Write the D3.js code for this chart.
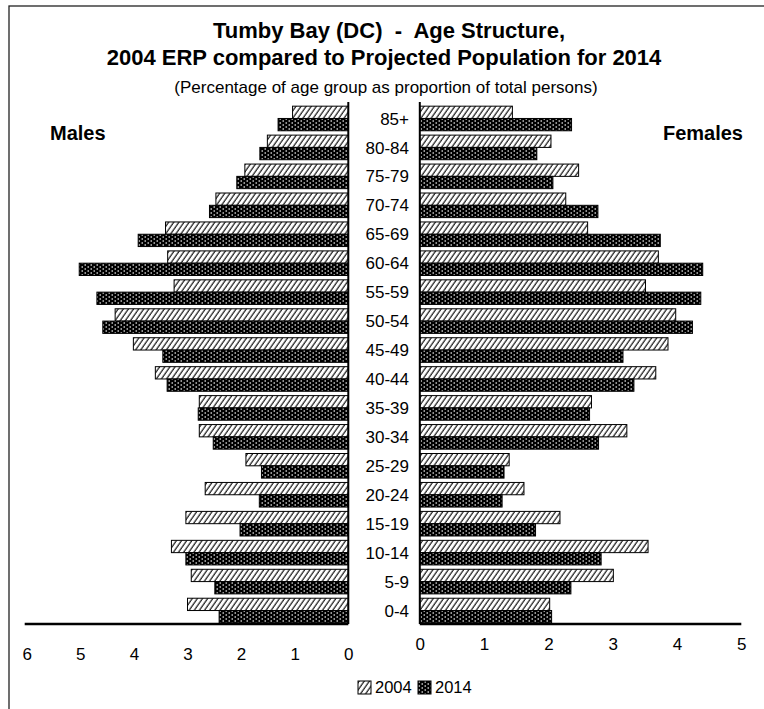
<!DOCTYPE html>
<html>
<head>
<meta charset="utf-8">
<script src="https://cdn.jsdelivr.net/npm/d3@7"></script>
<style>
  html, body { margin: 0; padding: 0; background: #fff; }
  svg { display: block; font-family: "Liberation Sans", Arial, sans-serif; }
  .title { font-weight: bold; font-size: 22px; white-space: pre; }
  .subtitle { font-size: 17px; }
  .side { font-weight: bold; font-size: 20px; }
  .age { font-size: 17px; }
  .legend { font-size: 16.5px; }
</style>
</head>
<body>
<svg id="chart" width="764" height="709"></svg>
<script>
const AGE_GROUPS = ["85+", "80-84", "75-79", "70-74", "65-69", "60-64", "55-59", "50-54", "45-49",
  "40-44", "35-39", "30-34", "25-29", "20-24", "15-19", "10-14", "5-9", "0-4"];
const YEARS = ["2004", "2014"];

// percent of total persons
const MALES_2004 = [1.04, 1.51, 1.93, 2.47, 3.41, 3.37, 3.25, 4.35, 4.01, 3.60, 2.78, 2.78, 1.91, 2.67, 3.03, 3.30, 2.93, 3.00];
const MALES_2014 = [1.31, 1.65, 2.08, 2.59, 3.92, 5.02, 4.69, 4.58, 3.46, 3.38, 2.80, 2.52, 1.62, 1.66, 2.02, 3.03, 2.49, 2.41];
const FEMALES_2004 = [1.44, 2.04, 2.47, 2.27, 2.61, 3.71, 3.51, 3.98, 3.86, 3.67, 2.67, 3.22, 1.39, 1.62, 2.18, 3.55, 3.01, 2.02];
const FEMALES_2014 = [2.36, 1.82, 2.07, 2.77, 3.74, 4.40, 4.37, 4.24, 3.16, 3.33, 2.64, 2.78, 1.31, 1.28, 1.80, 2.82, 2.35, 2.05];

const LEFT_TICKS = [6, 5, 4, 3, 2, 1, 0];
const RIGHT_TICKS = [0, 1, 2, 3, 4, 5];

const svg = d3.select("#chart");
const defs = svg.append("defs");

const hatch = defs.append("pattern")
  .attr("id", "hatch")
  .attr("patternUnits", "userSpaceOnUse")
  .attr("width", 4.2)
  .attr("height", 4.2)
  .attr("patternTransform", "rotate(35)");
hatch.append("rect").attr("width", 4.2).attr("height", 4.2).attr("fill", "#fff");
hatch.append("line").attr("x1", 1).attr("y1", 0).attr("x2", 1).attr("y2", 4.2)
  .attr("stroke", "#000").attr("stroke-width", 1.1);

const dots = defs.append("pattern")
  .attr("id", "dots")
  .attr("patternUnits", "userSpaceOnUse")
  .attr("width", 6)
  .attr("height", 4);
dots.append("rect").attr("width", 6).attr("height", 4).attr("fill", "#000");
dots.append("circle").attr("cx", 1.2).attr("cy", 1).attr("r", 0.8).attr("fill", "#fff");
dots.append("circle").attr("cx", 4.2).attr("cy", 3).attr("r", 0.8).attr("fill", "#fff");

const fills = { "2004": "url(#hatch)", "2014": "url(#dots)" };

// frame (right and bottom edges fall off the page)
svg.append("rect")
  .attr("x", 9).attr("y", 6).attr("width", 770).attr("height", 720)
  .attr("fill", "none").attr("stroke", "#222").attr("stroke-width", 1.3);

// titles
svg.append("text").attr("class", "title").attr("x", 389).attr("y", 38)
  .attr("text-anchor", "middle").text("Tumby Bay (DC)  -  Age Structure,");
svg.append("text").attr("class", "title").attr("x", 384).attr("y", 65)
  .attr("text-anchor", "middle").text("2004 ERP compared to Projected Population for 2014");
svg.append("text").attr("class", "subtitle").attr("x", 386).attr("y", 93)
  .attr("text-anchor", "middle").text("(Percentage of age group as proportion of total persons)");

svg.append("text").attr("class", "side").attr("x", 50).attr("y", 140).text("Males");
svg.append("text").attr("class", "side").attr("x", 743).attr("y", 140)
  .attr("text-anchor", "end").text("Females");

// scales
const y = d3.scaleBand()
  .domain(AGE_GROUPS)
  .range([104, 625])
  .paddingInner(0.15)
  .paddingOuter(0.075);
const yYear = d3.scaleBand().domain(YEARS).range([0, y.bandwidth()]);

const xLeft = d3.scaleLinear().domain([0, 6]).range([348.3, 26.7]);
const xRight = d3.scaleLinear().domain([0, 5]).range([419.8, 741.3]);

const maleRows = AGE_GROUPS.flatMap((age, i) => [
  { age, year: "2004", value: MALES_2004[i] },
  { age, year: "2014", value: MALES_2014[i] },
]);
const femaleRows = AGE_GROUPS.flatMap((age, i) => [
  { age, year: "2004", value: FEMALES_2004[i] },
  { age, year: "2014", value: FEMALES_2014[i] },
]);

svg.append("g").selectAll("rect")
  .data(maleRows)
  .join("rect")
  .attr("x", (d) => xLeft(d.value))
  .attr("y", (d) => y(d.age) + yYear(d.year))
  .attr("width", (d) => xLeft(0) - xLeft(d.value))
  .attr("height", yYear.bandwidth())
  .attr("fill", (d) => fills[d.year])
  .attr("stroke", "#000")
  .attr("stroke-width", 1);

svg.append("g").selectAll("rect")
  .data(femaleRows)
  .join("rect")
  .attr("x", xRight(0))
  .attr("y", (d) => y(d.age) + yYear(d.year))
  .attr("width", (d) => xRight(d.value) - xRight(0))
  .attr("height", yYear.bandwidth())
  .attr("fill", (d) => fills[d.year])
  .attr("stroke", "#000")
  .attr("stroke-width", 1);

// age labels
svg.append("g").selectAll("text")
  .data(AGE_GROUPS)
  .join("text")
  .attr("class", "age")
  .attr("x", 409)
  .attr("y", (d) => y(d) + y.bandwidth() / 2)
  .attr("dy", "0.36em")
  .attr("text-anchor", "end")
  .text((d) => d);

// vertical zero lines
const yTop = y.range()[0] - 2;
const yBase = 624;
svg.append("line").attr("x1", xLeft(0)).attr("x2", xLeft(0)).attr("y1", yTop).attr("y2", yBase)
  .attr("stroke", "#000").attr("stroke-width", 2);
svg.append("line").attr("x1", xRight(0)).attr("x2", xRight(0)).attr("y1", yTop).attr("y2", yBase)
  .attr("stroke", "#000").attr("stroke-width", 2);

// bottom axes
const leftAxis = svg.append("g")
  .attr("transform", `translate(0,${yBase})`)
  .call(d3.axisBottom(xLeft).tickValues(LEFT_TICKS).tickSize(0).tickPadding(24).tickFormat(d3.format("d")));
leftAxis.select(".domain").attr("d", `M${xLeft(6) - 2},0H${xLeft(0)}`).attr("stroke-width", 2.5);

const rightAxis = svg.append("g")
  .attr("transform", `translate(0,${yBase})`)
  .call(d3.axisBottom(xRight).tickValues(RIGHT_TICKS).tickSize(0).tickPadding(14).tickFormat(d3.format("d")));
rightAxis.select(".domain").attr("d", `M${xRight(0)},0H${xRight(5)}`).attr("stroke-width", 2.5);

svg.selectAll(".tick text")
  .attr("fill", "#000")
  .style("font-family", "'Liberation Sans', Arial, sans-serif")
  .style("font-size", "17px");

// legend
const legend = svg.append("g").attr("class", "legend").attr("transform", "translate(358,681)");
const legendItems = legend.selectAll("g")
  .data(YEARS)
  .join("g")
  .attr("transform", (d, i) => `translate(${i * 60},0)`);
legendItems.append("rect")
  .attr("width", 13).attr("height", 13)
  .attr("fill", (d) => fills[d])
  .attr("stroke", "#000");
legendItems.append("text")
  .attr("x", 17).attr("y", 6.5).attr("dy", "0.36em")
  .text((d) => d);
</script>
</body>
</html>
